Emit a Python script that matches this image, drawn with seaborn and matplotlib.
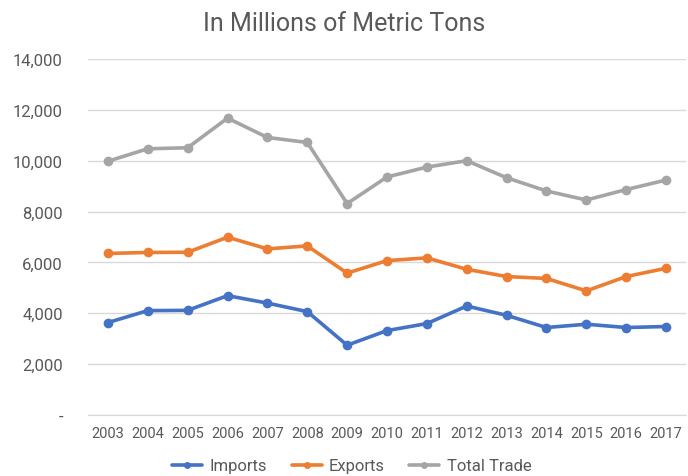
import numpy as np
import pandas as pd
import matplotlib
matplotlib.use("Agg")
import matplotlib.pyplot as plt
import matplotlib.ticker as mticker
import seaborn as sns

years = list(range(2003, 2018))
imports = [3635, 4105, 4115, 4694, 4400, 4066, 2745, 3320, 3595, 4285, 3920, 3440, 3570, 3440, 3480]
exports = [6353, 6392, 6400, 6992, 6533, 6650, 5580, 6070, 6180, 5730, 5445, 5370, 4880, 5445, 5770]
total_trade = [9980, 10470, 10510, 11675, 10914, 10718, 8314, 9360, 9750, 10000, 9330, 8810, 8455, 8865, 9240]

df = pd.DataFrame({"Year": years, "Imports": imports, "Exports": exports, "Total Trade": total_trade})
long_df = df.melt(id_vars="Year", var_name="Series", value_name="Value")

sns.set_style("white")
plt.rcParams["font.family"] = ["Roboto", "DejaVu Sans"]
text_col = "#595959"

fig = plt.figure(figsize=(6.88, 4.77), dpi=100)
ax = fig.add_axes([88 / 688, 1 - 416 / 477, 598 / 688, 356 / 477])

palette = {"Imports": "#4472C4", "Exports": "#ED7D31", "Total Trade": "#A5A5A5"}
sns.lineplot(data=long_df, x="Year", y="Value", hue="Series", palette=palette,
             marker="o", markersize=7, markeredgewidth=0, linewidth=2.6, ax=ax)

ax.set_ylim(0, 14000)
ax.set_xlim(2002.5, 2017.5)
ax.set_yticks(np.arange(0, 14001, 2000))
ax.yaxis.set_major_formatter(mticker.FuncFormatter(lambda v, p: "-" if v == 0 else f"{int(v):,}"))
ax.set_xticks(years)
ax.grid(axis="y", color="#d9d9d9", linewidth=1)
for s in ["top", "right", "left"]:
    ax.spines[s].set_visible(False)
ax.spines["bottom"].set_color("#d9d9d9")
ax.tick_params(axis="y", length=0, pad=18, labelsize=12, labelcolor=text_col)
ax.tick_params(axis="x", length=0, pad=8, labelsize=10.5, labelcolor=text_col)
ax.set_xlabel("")
ax.set_ylabel("")

fig.suptitle("In Millions of Metric Tons", x=0.5, y=0.975, fontsize=18, color=text_col)

handles, labels = ax.get_legend_handles_labels()
ax.get_legend().remove()
leg = fig.legend(handles, labels, loc="center", bbox_to_anchor=(352 / 688, 1 - 467 / 477), ncol=3,
                 frameon=False, fontsize=12, labelcolor=text_col, handlelength=1.8,
                 columnspacing=1.45, handletextpad=0.45)
for h in leg.get_lines():
    h.set_markersize(5)

fig.savefig("out.png", dpi=100)
